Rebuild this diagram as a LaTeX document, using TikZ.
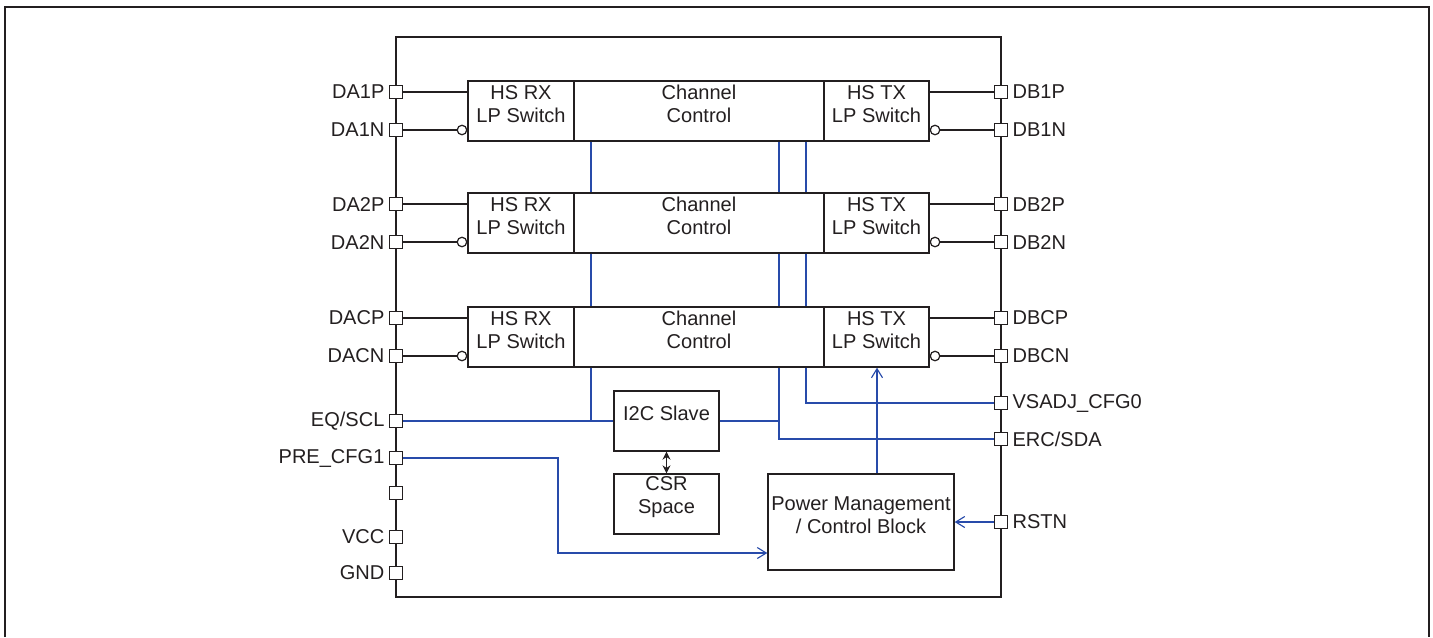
\documentclass[tikz,border=0pt]{standalone}
\usepackage{fontspec}
\setmainfont{Liberation Sans}
\usetikzlibrary{positioning,fit,arrows.meta}
\definecolor{sigblue}{RGB}{40,75,170}
\definecolor{ink}{RGB}{35,31,32}

\begin{document}
\begin{tikzpicture}[
    x=0.02cm, y=-0.02cm,
    blk/.style={draw=ink,line width=0.75pt,inner sep=0pt,align=center,font=\fontsize{11.4}{12.9}\selectfont,text=ink},
    pin/.style={draw=ink,fill=white,line width=0.7pt,minimum size=0.25cm,inner sep=0pt},
    plab/.style={font=\fontsize{11.4}{13}\selectfont,text=ink,inner sep=2.5pt},
    bub/.style={circle,draw=ink,fill=white,line width=0.7pt,minimum size=0.19cm,inner sep=0pt},
    wire/.style={ink,line width=0.75pt},
    sig/.style={sigblue,line width=0.65pt},
    sigarr/.style={sig,-{Straight Barb[length=0.18cm,width=0.22cm]}}
]
\useasboundingbox (0,0) rectangle (1433,637);

% outer frame
\draw[ink,line width=1pt] (5,637) -- (5,7) -- (1429,7) -- (1429,637);

% chip outline
\node[draw=ink,line width=0.8pt,inner sep=0pt,fit={(396,37)(1001,597)}] (chip) {};

% three lanes : RX switch - channel control - TX switch
\foreach \n/\yt in {1/81,2/193,C/307}{
  \node[blk,fit={(468,\yt)(574,\yt+60)}] (rx\n) {HS RX\\LP Switch};
  \node[blk,fit={(574,\yt)(824,\yt+60)}] (cc\n) {Channel\\Control};
  \node[blk,fit={(824,\yt)(929,\yt+60)}] (tx\n) {HS TX\\LP Switch};
  \node[bub,anchor=east] (ia\n) at (rx\n.west |- 0,\yt+49) {};
  \node[bub,anchor=west] (ib\n) at (tx\n.east |- 0,\yt+49) {};
  \node[pin,label={[plab]left:DA\n P}] (a\n p) at (396,\yt+11) {};
  \node[pin,label={[plab]left:DA\n N}] (a\n n) at (396,\yt+49) {};
  \node[pin,label={[plab]right:DB\n P}] (b\n p) at (1001,\yt+11) {};
  \node[pin,label={[plab]right:DB\n N}] (b\n n) at (1001,\yt+49) {};
  \draw[wire] (a\n p) -- (rx\n.west |- a\n p);
  \draw[wire] (a\n n) -- (ia\n);
  \draw[wire] (b\n p) -- (tx\n.east |- b\n p);
  \draw[wire] (b\n n) -- (ib\n);
}

% control blocks
\node[blk,fit={(614,391)(719,451)}] (i2c) {I2C Slave};
\node[blk,fit={(614,474)(719,534)}] (csr) {CSR\\Space};
\node[blk,fit={(768,474)(954,570)}] (pm) {Power Management\\/ Control Block};

% remaining pins
\node[pin,label={[plab]left:EQ/SCL}] (eq) at (396,421) {};
\node[pin,label={[plab]left:PRE\_CFG1}] (pre) at (396,458) {};
\node[pin] (nc) at (396,493) {};
\node[pin,label={[plab]left:VCC}] (vcc) at (396,537) {};
\node[pin,label={[plab]left:GND}] (gnd) at (396,573) {};
\node[pin,label={[plab]right:VSADJ\_CFG0}] (vsadj) at (1001,403) {};
\node[pin,label={[plab]right:ERC/SDA}] (erc) at (1001,439) {};
\node[pin,label={[plab]right:RSTN}] (rstn) at (1001,522) {};

% lane control bus
\foreach \x in {591,779,806}{
  \draw[sig] (cc1.south -| \x,0) -- (cc2.north -| \x,0);
  \draw[sig] (cc2.south -| \x,0) -- (ccC.north -| \x,0);
}
\draw[sig] (eq) -- (eq -| i2c.west);
\draw[sig] (ccC.south -| 591,0) -- (eq -| 591,0);
\draw[sig] (i2c.east |- eq) -- (eq -| 779,0);
\draw[sig] (ccC.south -| 779,0) |- (erc);
\draw[sig] (ccC.south -| 806,0) |- (vsadj);

% power management inputs and output
\coordinate (bend) at (558,553);
\draw[sigarr] (pre) -| (bend) -- (pm.west |- bend);
\draw[sigarr] (rstn) -- (pm.east |- rstn);
\draw[sigarr] (pm.north -| 877,0) -- (txC.south -| 877,0);
\draw[ink,line width=0.7pt,{Stealth[length=1.6mm,width=1.6mm]}-{Stealth[length=1.6mm,width=1.6mm]}] (i2c) -- (csr);

\end{tikzpicture}
\end{document}
